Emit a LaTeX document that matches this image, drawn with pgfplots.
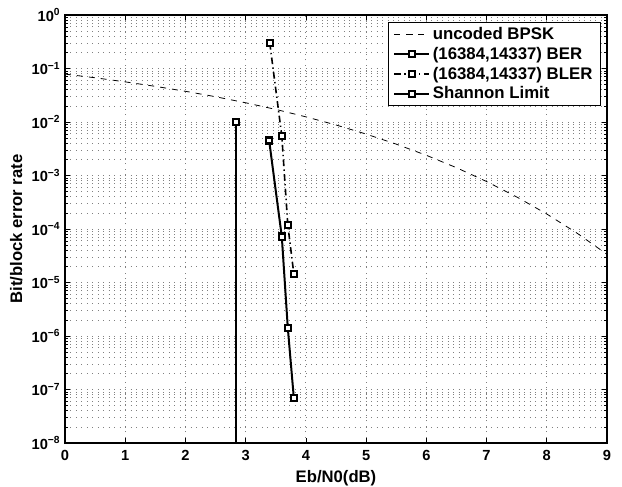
\documentclass[border=0pt]{standalone}
\usepackage{fontspec}
\setmainfont{Liberation Sans}
\usepackage{pgfplots}
\pgfplotsset{compat=1.18}
\usetikzlibrary{calc}
\begin{document}
\begin{tikzpicture}
\begin{axis}[
  name=ax,
  scale only axis, width=406.5pt, height=321pt,
  xmin=0, xmax=9, ymode=log, ymin=1e-8, ymax=1,
  /pgf/number format/assume math mode=true,
  xtick={0,1,2,3,4,5,6,7,8,9},
  ytick={1e-8,1e-7,1e-6,1e-5,1e-4,1e-3,1e-2,1e-1,1},
  yticklabels={10\textsuperscript{−8},10\textsuperscript{−7},10\textsuperscript{−6},10\textsuperscript{−5},10\textsuperscript{−4},10\textsuperscript{−3},10\textsuperscript{−2},10\textsuperscript{−1},10\textsuperscript{0}},
  minor ytick={2e-8,3e-8,4e-8,5e-8,6e-8,7e-8,8e-8,9e-8,
               2e-7,3e-7,4e-7,5e-7,6e-7,7e-7,8e-7,9e-7,
               2e-6,3e-6,4e-6,5e-6,6e-6,7e-6,8e-6,9e-6,
               2e-5,3e-5,4e-5,5e-5,6e-5,7e-5,8e-5,9e-5,
               2e-4,3e-4,4e-4,5e-4,6e-4,7e-4,8e-4,9e-4,
               2e-3,3e-3,4e-3,5e-3,6e-3,7e-3,8e-3,9e-3,
               2e-2,3e-2,4e-2,5e-2,6e-2,7e-2,8e-2,9e-2,
               2e-1,3e-1,4e-1,5e-1,6e-1,7e-1,8e-1,9e-1},
  tick label style={font=\bfseries\fontsize{11}{12}\selectfont, black},
  xticklabel style={yshift=-2pt},
  label style={font=\bfseries\fontsize{12.5}{14}\selectfont},
  xlabel={Eb/N0(dB)},
  ylabel={Bit/block error rate},
  tick align=inside,
  major tick length=4pt, minor tick length=2.2pt,
  tick style={black, line width=0.5pt},
  axis line style={black, line width=1pt},
  xmajorgrids, ymajorgrids, yminorgrids,
  major grid style={black!50, line width=0.6pt, dash pattern=on 0.7pt off 3.4pt},
  minor grid style={black!50, line width=0.6pt, dash pattern=on 0.7pt off 3.4pt},
  legend style={at={(rel axis cs:0.989,0.984)}, anchor=north east,
    font=\bfseries\fontsize{12.6}{13.5}\selectfont, draw=black, line width=0.8pt,
    inner xsep=4pt, inner ysep=1.5pt, row sep=0.3pt, fill=white,
    nodes={inner xsep=2pt}},
  legend cell align=left,
  legend image code/.code={\draw[mark repeat=2,mark phase=2,#1] plot coordinates {(0pt,0pt)(13pt,0pt)(26pt,0pt)};},
]
% uncoded BPSK
\addplot[black, line width=0.6pt, dash pattern=on 4.5pt off 4.5pt] coordinates {
(0,7.865e-2)(0.5,6.71e-2)(1,5.628e-2)(1.5,4.64e-2)(2,3.751e-2)(2.5,2.97e-2)
(3,2.288e-2)(3.5,1.72e-2)(4,1.25e-2)(4.5,8.8e-3)(5,5.954e-3)(5.5,3.86e-3)
(6,2.388e-3)(6.5,1.40e-3)(7,7.727e-4)(7.5,3.98e-4)(8,1.909e-4)(8.5,8.4e-5)(9,3.363e-5)};
\addlegendentry{uncoded BPSK}
% BER
\addplot[black, line width=1.5pt, mark=square*, mark size=2.3pt,
  mark options={solid, fill=white, line width=1.8pt}] coordinates {
(3.39,4.5e-3)(3.60,7.2e-5)(3.70,1.4e-6)(3.80,6.9e-8)};
\addlegendentry{(16384,14337) BER}
% BLER
\addplot[black, line width=1.2pt, dash pattern=on 5pt off 2.5pt on 1pt off 2.5pt, mark=square*, mark size=2.3pt,
  mark options={solid, fill=white, line width=1.6pt}] coordinates {
(3.40,0.30)(3.60,5.5e-3)(3.70,1.18e-4)(3.80,1.44e-5)};
\addlegendentry{(16384,14337) BLER}
% Shannon limit
\addplot[black, line width=1.5pt, mark=square*, mark size=2.3pt, mark indices={1},
  mark options={solid, fill=white, line width=1.8pt}, forget plot] coordinates {
(2.84,1e-2)(2.84,1e-8)};
\addlegendimage{black, line width=1.5pt, mark=square*, mark size=2.3pt,
  mark options={solid, fill=white, line width=1.8pt}}
\addlegendentry{Shannon Limit}
\end{axis}
\pgfresetboundingbox
\path[use as bounding box] ($(ax.south west)+(-48.75pt,-32.25pt)$) rectangle ($(ax.north east)+(11.25pt,11.25pt)$);
\end{tikzpicture}
\end{document}
